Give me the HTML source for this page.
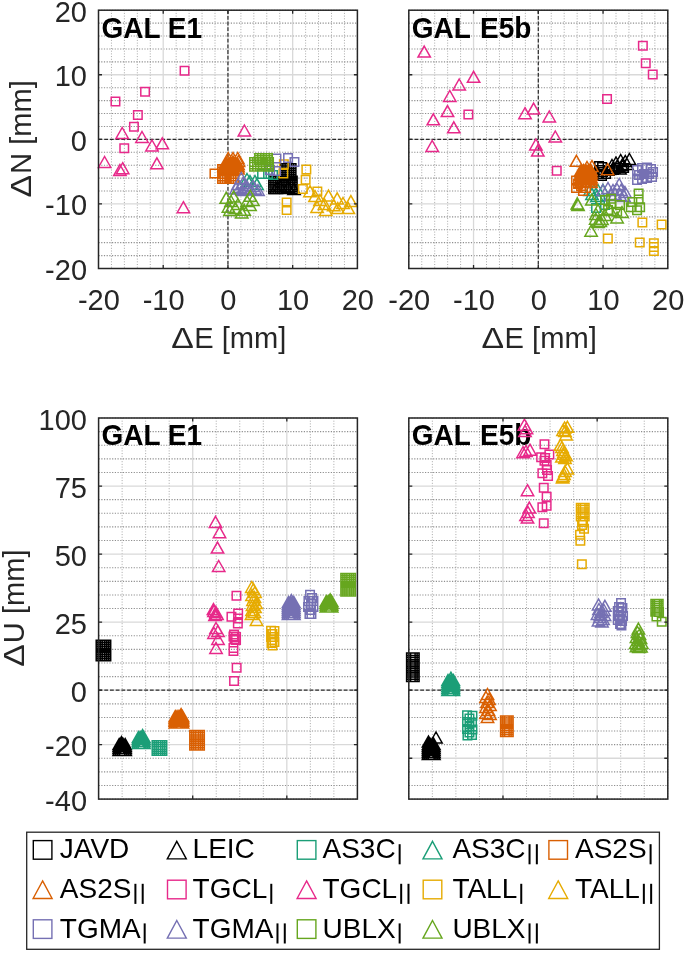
<!DOCTYPE html>
<html><head><meta charset="utf-8"><style>
html,body{margin:0;padding:0;background:#fff;}
svg{display:block;font-family:"Liberation Sans", sans-serif;filter:blur(0.3px);}
</style></head><body>
<svg width="685" height="953" viewBox="0 0 685 953">
<rect width="685" height="953" fill="#fff"/>
<line x1="98.50" y1="10.2" x2="98.50" y2="268.5" stroke="#a8a8a8" stroke-width="1.0" stroke-dasharray="1.0 1.7"/>
<line x1="111.44" y1="10.2" x2="111.44" y2="268.5" stroke="#a8a8a8" stroke-width="1.0" stroke-dasharray="1.0 1.7"/>
<line x1="124.39" y1="10.2" x2="124.39" y2="268.5" stroke="#a8a8a8" stroke-width="1.0" stroke-dasharray="1.0 1.7"/>
<line x1="137.33" y1="10.2" x2="137.33" y2="268.5" stroke="#a8a8a8" stroke-width="1.0" stroke-dasharray="1.0 1.7"/>
<line x1="150.28" y1="10.2" x2="150.28" y2="268.5" stroke="#a8a8a8" stroke-width="1.0" stroke-dasharray="1.0 1.7"/>
<line x1="176.17" y1="10.2" x2="176.17" y2="268.5" stroke="#a8a8a8" stroke-width="1.0" stroke-dasharray="1.0 1.7"/>
<line x1="189.11" y1="10.2" x2="189.11" y2="268.5" stroke="#a8a8a8" stroke-width="1.0" stroke-dasharray="1.0 1.7"/>
<line x1="202.06" y1="10.2" x2="202.06" y2="268.5" stroke="#a8a8a8" stroke-width="1.0" stroke-dasharray="1.0 1.7"/>
<line x1="215.00" y1="10.2" x2="215.00" y2="268.5" stroke="#a8a8a8" stroke-width="1.0" stroke-dasharray="1.0 1.7"/>
<line x1="240.90" y1="10.2" x2="240.90" y2="268.5" stroke="#a8a8a8" stroke-width="1.0" stroke-dasharray="1.0 1.7"/>
<line x1="253.84" y1="10.2" x2="253.84" y2="268.5" stroke="#a8a8a8" stroke-width="1.0" stroke-dasharray="1.0 1.7"/>
<line x1="266.78" y1="10.2" x2="266.78" y2="268.5" stroke="#a8a8a8" stroke-width="1.0" stroke-dasharray="1.0 1.7"/>
<line x1="279.73" y1="10.2" x2="279.73" y2="268.5" stroke="#a8a8a8" stroke-width="1.0" stroke-dasharray="1.0 1.7"/>
<line x1="305.62" y1="10.2" x2="305.62" y2="268.5" stroke="#a8a8a8" stroke-width="1.0" stroke-dasharray="1.0 1.7"/>
<line x1="318.56" y1="10.2" x2="318.56" y2="268.5" stroke="#a8a8a8" stroke-width="1.0" stroke-dasharray="1.0 1.7"/>
<line x1="331.51" y1="10.2" x2="331.51" y2="268.5" stroke="#a8a8a8" stroke-width="1.0" stroke-dasharray="1.0 1.7"/>
<line x1="344.45" y1="10.2" x2="344.45" y2="268.5" stroke="#a8a8a8" stroke-width="1.0" stroke-dasharray="1.0 1.7"/>
<line x1="357.40" y1="10.2" x2="357.40" y2="268.5" stroke="#a8a8a8" stroke-width="1.0" stroke-dasharray="1.0 1.7"/>
<line x1="98.5" y1="268.50" x2="357.4" y2="268.50" stroke="#8e8e8e" stroke-width="1.1" stroke-dasharray="1.2 1.5"/>
<line x1="98.5" y1="255.59" x2="357.4" y2="255.59" stroke="#8e8e8e" stroke-width="1.1" stroke-dasharray="1.2 1.5"/>
<line x1="98.5" y1="242.67" x2="357.4" y2="242.67" stroke="#8e8e8e" stroke-width="1.1" stroke-dasharray="1.2 1.5"/>
<line x1="98.5" y1="229.75" x2="357.4" y2="229.75" stroke="#8e8e8e" stroke-width="1.1" stroke-dasharray="1.2 1.5"/>
<line x1="98.5" y1="216.84" x2="357.4" y2="216.84" stroke="#8e8e8e" stroke-width="1.1" stroke-dasharray="1.2 1.5"/>
<line x1="98.5" y1="191.01" x2="357.4" y2="191.01" stroke="#8e8e8e" stroke-width="1.1" stroke-dasharray="1.2 1.5"/>
<line x1="98.5" y1="178.09" x2="357.4" y2="178.09" stroke="#8e8e8e" stroke-width="1.1" stroke-dasharray="1.2 1.5"/>
<line x1="98.5" y1="165.18" x2="357.4" y2="165.18" stroke="#8e8e8e" stroke-width="1.1" stroke-dasharray="1.2 1.5"/>
<line x1="98.5" y1="152.26" x2="357.4" y2="152.26" stroke="#8e8e8e" stroke-width="1.1" stroke-dasharray="1.2 1.5"/>
<line x1="98.5" y1="126.43" x2="357.4" y2="126.43" stroke="#8e8e8e" stroke-width="1.1" stroke-dasharray="1.2 1.5"/>
<line x1="98.5" y1="113.52" x2="357.4" y2="113.52" stroke="#8e8e8e" stroke-width="1.1" stroke-dasharray="1.2 1.5"/>
<line x1="98.5" y1="100.60" x2="357.4" y2="100.60" stroke="#8e8e8e" stroke-width="1.1" stroke-dasharray="1.2 1.5"/>
<line x1="98.5" y1="87.69" x2="357.4" y2="87.69" stroke="#8e8e8e" stroke-width="1.1" stroke-dasharray="1.2 1.5"/>
<line x1="98.5" y1="61.86" x2="357.4" y2="61.86" stroke="#8e8e8e" stroke-width="1.1" stroke-dasharray="1.2 1.5"/>
<line x1="98.5" y1="48.94" x2="357.4" y2="48.94" stroke="#8e8e8e" stroke-width="1.1" stroke-dasharray="1.2 1.5"/>
<line x1="98.5" y1="36.03" x2="357.4" y2="36.03" stroke="#8e8e8e" stroke-width="1.1" stroke-dasharray="1.2 1.5"/>
<line x1="98.5" y1="23.12" x2="357.4" y2="23.12" stroke="#8e8e8e" stroke-width="1.1" stroke-dasharray="1.2 1.5"/>
<line x1="98.5" y1="10.20" x2="357.4" y2="10.20" stroke="#8e8e8e" stroke-width="1.1" stroke-dasharray="1.2 1.5"/>
<line x1="163.22" y1="10.2" x2="163.22" y2="268.5" stroke="#d9d9d9" stroke-width="1.3"/>
<line x1="227.95" y1="10.2" x2="227.95" y2="268.5" stroke="#d9d9d9" stroke-width="1.3"/>
<line x1="292.67" y1="10.2" x2="292.67" y2="268.5" stroke="#d9d9d9" stroke-width="1.3"/>
<line x1="98.5" y1="203.93" x2="357.4" y2="203.93" stroke="#d9d9d9" stroke-width="1.3"/>
<line x1="98.5" y1="139.35" x2="357.4" y2="139.35" stroke="#d9d9d9" stroke-width="1.3"/>
<line x1="98.5" y1="74.77" x2="357.4" y2="74.77" stroke="#d9d9d9" stroke-width="1.3"/>
<line x1="98.5" y1="139.35" x2="357.4" y2="139.35" stroke="#2a2a2a" stroke-width="1.2" stroke-dasharray="3.8 1.9"/>
<line x1="227.95" y1="10.2" x2="227.95" y2="268.5" stroke="#2a2a2a" stroke-width="1.2" stroke-dasharray="3.8 1.9"/>
<line x1="408.80" y1="10.2" x2="408.80" y2="268.5" stroke="#a8a8a8" stroke-width="1.0" stroke-dasharray="1.0 1.7"/>
<line x1="421.75" y1="10.2" x2="421.75" y2="268.5" stroke="#a8a8a8" stroke-width="1.0" stroke-dasharray="1.0 1.7"/>
<line x1="434.70" y1="10.2" x2="434.70" y2="268.5" stroke="#a8a8a8" stroke-width="1.0" stroke-dasharray="1.0 1.7"/>
<line x1="447.65" y1="10.2" x2="447.65" y2="268.5" stroke="#a8a8a8" stroke-width="1.0" stroke-dasharray="1.0 1.7"/>
<line x1="460.60" y1="10.2" x2="460.60" y2="268.5" stroke="#a8a8a8" stroke-width="1.0" stroke-dasharray="1.0 1.7"/>
<line x1="486.50" y1="10.2" x2="486.50" y2="268.5" stroke="#a8a8a8" stroke-width="1.0" stroke-dasharray="1.0 1.7"/>
<line x1="499.45" y1="10.2" x2="499.45" y2="268.5" stroke="#a8a8a8" stroke-width="1.0" stroke-dasharray="1.0 1.7"/>
<line x1="512.40" y1="10.2" x2="512.40" y2="268.5" stroke="#a8a8a8" stroke-width="1.0" stroke-dasharray="1.0 1.7"/>
<line x1="525.35" y1="10.2" x2="525.35" y2="268.5" stroke="#a8a8a8" stroke-width="1.0" stroke-dasharray="1.0 1.7"/>
<line x1="551.25" y1="10.2" x2="551.25" y2="268.5" stroke="#a8a8a8" stroke-width="1.0" stroke-dasharray="1.0 1.7"/>
<line x1="564.20" y1="10.2" x2="564.20" y2="268.5" stroke="#a8a8a8" stroke-width="1.0" stroke-dasharray="1.0 1.7"/>
<line x1="577.15" y1="10.2" x2="577.15" y2="268.5" stroke="#a8a8a8" stroke-width="1.0" stroke-dasharray="1.0 1.7"/>
<line x1="590.10" y1="10.2" x2="590.10" y2="268.5" stroke="#a8a8a8" stroke-width="1.0" stroke-dasharray="1.0 1.7"/>
<line x1="616.00" y1="10.2" x2="616.00" y2="268.5" stroke="#a8a8a8" stroke-width="1.0" stroke-dasharray="1.0 1.7"/>
<line x1="628.95" y1="10.2" x2="628.95" y2="268.5" stroke="#a8a8a8" stroke-width="1.0" stroke-dasharray="1.0 1.7"/>
<line x1="641.90" y1="10.2" x2="641.90" y2="268.5" stroke="#a8a8a8" stroke-width="1.0" stroke-dasharray="1.0 1.7"/>
<line x1="654.85" y1="10.2" x2="654.85" y2="268.5" stroke="#a8a8a8" stroke-width="1.0" stroke-dasharray="1.0 1.7"/>
<line x1="667.80" y1="10.2" x2="667.80" y2="268.5" stroke="#a8a8a8" stroke-width="1.0" stroke-dasharray="1.0 1.7"/>
<line x1="408.8" y1="268.50" x2="667.8" y2="268.50" stroke="#8e8e8e" stroke-width="1.1" stroke-dasharray="1.2 1.5"/>
<line x1="408.8" y1="255.59" x2="667.8" y2="255.59" stroke="#8e8e8e" stroke-width="1.1" stroke-dasharray="1.2 1.5"/>
<line x1="408.8" y1="242.67" x2="667.8" y2="242.67" stroke="#8e8e8e" stroke-width="1.1" stroke-dasharray="1.2 1.5"/>
<line x1="408.8" y1="229.75" x2="667.8" y2="229.75" stroke="#8e8e8e" stroke-width="1.1" stroke-dasharray="1.2 1.5"/>
<line x1="408.8" y1="216.84" x2="667.8" y2="216.84" stroke="#8e8e8e" stroke-width="1.1" stroke-dasharray="1.2 1.5"/>
<line x1="408.8" y1="191.01" x2="667.8" y2="191.01" stroke="#8e8e8e" stroke-width="1.1" stroke-dasharray="1.2 1.5"/>
<line x1="408.8" y1="178.09" x2="667.8" y2="178.09" stroke="#8e8e8e" stroke-width="1.1" stroke-dasharray="1.2 1.5"/>
<line x1="408.8" y1="165.18" x2="667.8" y2="165.18" stroke="#8e8e8e" stroke-width="1.1" stroke-dasharray="1.2 1.5"/>
<line x1="408.8" y1="152.26" x2="667.8" y2="152.26" stroke="#8e8e8e" stroke-width="1.1" stroke-dasharray="1.2 1.5"/>
<line x1="408.8" y1="126.43" x2="667.8" y2="126.43" stroke="#8e8e8e" stroke-width="1.1" stroke-dasharray="1.2 1.5"/>
<line x1="408.8" y1="113.52" x2="667.8" y2="113.52" stroke="#8e8e8e" stroke-width="1.1" stroke-dasharray="1.2 1.5"/>
<line x1="408.8" y1="100.60" x2="667.8" y2="100.60" stroke="#8e8e8e" stroke-width="1.1" stroke-dasharray="1.2 1.5"/>
<line x1="408.8" y1="87.69" x2="667.8" y2="87.69" stroke="#8e8e8e" stroke-width="1.1" stroke-dasharray="1.2 1.5"/>
<line x1="408.8" y1="61.86" x2="667.8" y2="61.86" stroke="#8e8e8e" stroke-width="1.1" stroke-dasharray="1.2 1.5"/>
<line x1="408.8" y1="48.94" x2="667.8" y2="48.94" stroke="#8e8e8e" stroke-width="1.1" stroke-dasharray="1.2 1.5"/>
<line x1="408.8" y1="36.03" x2="667.8" y2="36.03" stroke="#8e8e8e" stroke-width="1.1" stroke-dasharray="1.2 1.5"/>
<line x1="408.8" y1="23.12" x2="667.8" y2="23.12" stroke="#8e8e8e" stroke-width="1.1" stroke-dasharray="1.2 1.5"/>
<line x1="408.8" y1="10.20" x2="667.8" y2="10.20" stroke="#8e8e8e" stroke-width="1.1" stroke-dasharray="1.2 1.5"/>
<line x1="473.55" y1="10.2" x2="473.55" y2="268.5" stroke="#d9d9d9" stroke-width="1.3"/>
<line x1="538.30" y1="10.2" x2="538.30" y2="268.5" stroke="#d9d9d9" stroke-width="1.3"/>
<line x1="603.05" y1="10.2" x2="603.05" y2="268.5" stroke="#d9d9d9" stroke-width="1.3"/>
<line x1="408.8" y1="203.93" x2="667.8" y2="203.93" stroke="#d9d9d9" stroke-width="1.3"/>
<line x1="408.8" y1="139.35" x2="667.8" y2="139.35" stroke="#d9d9d9" stroke-width="1.3"/>
<line x1="408.8" y1="74.77" x2="667.8" y2="74.77" stroke="#d9d9d9" stroke-width="1.3"/>
<line x1="408.8" y1="139.35" x2="667.8" y2="139.35" stroke="#2a2a2a" stroke-width="1.2" stroke-dasharray="3.8 1.9"/>
<line x1="538.30" y1="10.2" x2="538.30" y2="268.5" stroke="#2a2a2a" stroke-width="1.2" stroke-dasharray="3.8 1.9"/>
<line x1="98.60" y1="418.0" x2="98.60" y2="799.1" stroke="#a8a8a8" stroke-width="1.0" stroke-dasharray="1.0 1.7"/>
<line x1="122.13" y1="418.0" x2="122.13" y2="799.1" stroke="#a8a8a8" stroke-width="1.0" stroke-dasharray="1.0 1.7"/>
<line x1="145.65" y1="418.0" x2="145.65" y2="799.1" stroke="#a8a8a8" stroke-width="1.0" stroke-dasharray="1.0 1.7"/>
<line x1="169.18" y1="418.0" x2="169.18" y2="799.1" stroke="#a8a8a8" stroke-width="1.0" stroke-dasharray="1.0 1.7"/>
<line x1="216.24" y1="418.0" x2="216.24" y2="799.1" stroke="#a8a8a8" stroke-width="1.0" stroke-dasharray="1.0 1.7"/>
<line x1="239.76" y1="418.0" x2="239.76" y2="799.1" stroke="#a8a8a8" stroke-width="1.0" stroke-dasharray="1.0 1.7"/>
<line x1="263.29" y1="418.0" x2="263.29" y2="799.1" stroke="#a8a8a8" stroke-width="1.0" stroke-dasharray="1.0 1.7"/>
<line x1="310.35" y1="418.0" x2="310.35" y2="799.1" stroke="#a8a8a8" stroke-width="1.0" stroke-dasharray="1.0 1.7"/>
<line x1="333.87" y1="418.0" x2="333.87" y2="799.1" stroke="#a8a8a8" stroke-width="1.0" stroke-dasharray="1.0 1.7"/>
<line x1="357.40" y1="418.0" x2="357.40" y2="799.1" stroke="#a8a8a8" stroke-width="1.0" stroke-dasharray="1.0 1.7"/>
<line x1="98.6" y1="799.10" x2="357.4" y2="799.10" stroke="#8e8e8e" stroke-width="1.1" stroke-dasharray="1.2 1.5"/>
<line x1="98.6" y1="785.49" x2="357.4" y2="785.49" stroke="#8e8e8e" stroke-width="1.1" stroke-dasharray="1.2 1.5"/>
<line x1="98.6" y1="771.88" x2="357.4" y2="771.88" stroke="#8e8e8e" stroke-width="1.1" stroke-dasharray="1.2 1.5"/>
<line x1="98.6" y1="758.27" x2="357.4" y2="758.27" stroke="#8e8e8e" stroke-width="1.1" stroke-dasharray="1.2 1.5"/>
<line x1="98.6" y1="731.05" x2="357.4" y2="731.05" stroke="#8e8e8e" stroke-width="1.1" stroke-dasharray="1.2 1.5"/>
<line x1="98.6" y1="717.44" x2="357.4" y2="717.44" stroke="#8e8e8e" stroke-width="1.1" stroke-dasharray="1.2 1.5"/>
<line x1="98.6" y1="703.83" x2="357.4" y2="703.83" stroke="#8e8e8e" stroke-width="1.1" stroke-dasharray="1.2 1.5"/>
<line x1="98.6" y1="676.60" x2="357.4" y2="676.60" stroke="#8e8e8e" stroke-width="1.1" stroke-dasharray="1.2 1.5"/>
<line x1="98.6" y1="662.99" x2="357.4" y2="662.99" stroke="#8e8e8e" stroke-width="1.1" stroke-dasharray="1.2 1.5"/>
<line x1="98.6" y1="649.38" x2="357.4" y2="649.38" stroke="#8e8e8e" stroke-width="1.1" stroke-dasharray="1.2 1.5"/>
<line x1="98.6" y1="635.77" x2="357.4" y2="635.77" stroke="#8e8e8e" stroke-width="1.1" stroke-dasharray="1.2 1.5"/>
<line x1="98.6" y1="608.55" x2="357.4" y2="608.55" stroke="#8e8e8e" stroke-width="1.1" stroke-dasharray="1.2 1.5"/>
<line x1="98.6" y1="594.94" x2="357.4" y2="594.94" stroke="#8e8e8e" stroke-width="1.1" stroke-dasharray="1.2 1.5"/>
<line x1="98.6" y1="581.33" x2="357.4" y2="581.33" stroke="#8e8e8e" stroke-width="1.1" stroke-dasharray="1.2 1.5"/>
<line x1="98.6" y1="567.72" x2="357.4" y2="567.72" stroke="#8e8e8e" stroke-width="1.1" stroke-dasharray="1.2 1.5"/>
<line x1="98.6" y1="540.50" x2="357.4" y2="540.50" stroke="#8e8e8e" stroke-width="1.1" stroke-dasharray="1.2 1.5"/>
<line x1="98.6" y1="526.89" x2="357.4" y2="526.89" stroke="#8e8e8e" stroke-width="1.1" stroke-dasharray="1.2 1.5"/>
<line x1="98.6" y1="513.27" x2="357.4" y2="513.27" stroke="#8e8e8e" stroke-width="1.1" stroke-dasharray="1.2 1.5"/>
<line x1="98.6" y1="499.66" x2="357.4" y2="499.66" stroke="#8e8e8e" stroke-width="1.1" stroke-dasharray="1.2 1.5"/>
<line x1="98.6" y1="472.44" x2="357.4" y2="472.44" stroke="#8e8e8e" stroke-width="1.1" stroke-dasharray="1.2 1.5"/>
<line x1="98.6" y1="458.83" x2="357.4" y2="458.83" stroke="#8e8e8e" stroke-width="1.1" stroke-dasharray="1.2 1.5"/>
<line x1="98.6" y1="445.22" x2="357.4" y2="445.22" stroke="#8e8e8e" stroke-width="1.1" stroke-dasharray="1.2 1.5"/>
<line x1="98.6" y1="431.61" x2="357.4" y2="431.61" stroke="#8e8e8e" stroke-width="1.1" stroke-dasharray="1.2 1.5"/>
<line x1="98.6" y1="418.00" x2="357.4" y2="418.00" stroke="#8e8e8e" stroke-width="1.1" stroke-dasharray="1.2 1.5"/>
<line x1="192.71" y1="418.0" x2="192.71" y2="799.1" stroke="#d9d9d9" stroke-width="1.3"/>
<line x1="286.82" y1="418.0" x2="286.82" y2="799.1" stroke="#d9d9d9" stroke-width="1.3"/>
<line x1="98.6" y1="744.66" x2="357.4" y2="744.66" stroke="#d9d9d9" stroke-width="1.3"/>
<line x1="98.6" y1="690.21" x2="357.4" y2="690.21" stroke="#d9d9d9" stroke-width="1.3"/>
<line x1="98.6" y1="622.16" x2="357.4" y2="622.16" stroke="#d9d9d9" stroke-width="1.3"/>
<line x1="98.6" y1="554.11" x2="357.4" y2="554.11" stroke="#d9d9d9" stroke-width="1.3"/>
<line x1="98.6" y1="486.05" x2="357.4" y2="486.05" stroke="#d9d9d9" stroke-width="1.3"/>
<line x1="98.6" y1="690.21" x2="357.4" y2="690.21" stroke="#2a2a2a" stroke-width="1.2" stroke-dasharray="3.8 1.9"/>
<line x1="408.80" y1="418.0" x2="408.80" y2="799.1" stroke="#a8a8a8" stroke-width="1.0" stroke-dasharray="1.0 1.7"/>
<line x1="432.35" y1="418.0" x2="432.35" y2="799.1" stroke="#a8a8a8" stroke-width="1.0" stroke-dasharray="1.0 1.7"/>
<line x1="455.89" y1="418.0" x2="455.89" y2="799.1" stroke="#a8a8a8" stroke-width="1.0" stroke-dasharray="1.0 1.7"/>
<line x1="479.44" y1="418.0" x2="479.44" y2="799.1" stroke="#a8a8a8" stroke-width="1.0" stroke-dasharray="1.0 1.7"/>
<line x1="526.53" y1="418.0" x2="526.53" y2="799.1" stroke="#a8a8a8" stroke-width="1.0" stroke-dasharray="1.0 1.7"/>
<line x1="550.07" y1="418.0" x2="550.07" y2="799.1" stroke="#a8a8a8" stroke-width="1.0" stroke-dasharray="1.0 1.7"/>
<line x1="573.62" y1="418.0" x2="573.62" y2="799.1" stroke="#a8a8a8" stroke-width="1.0" stroke-dasharray="1.0 1.7"/>
<line x1="620.71" y1="418.0" x2="620.71" y2="799.1" stroke="#a8a8a8" stroke-width="1.0" stroke-dasharray="1.0 1.7"/>
<line x1="644.25" y1="418.0" x2="644.25" y2="799.1" stroke="#a8a8a8" stroke-width="1.0" stroke-dasharray="1.0 1.7"/>
<line x1="667.80" y1="418.0" x2="667.80" y2="799.1" stroke="#a8a8a8" stroke-width="1.0" stroke-dasharray="1.0 1.7"/>
<line x1="408.8" y1="799.10" x2="667.8" y2="799.10" stroke="#8e8e8e" stroke-width="1.1" stroke-dasharray="1.2 1.5"/>
<line x1="408.8" y1="785.49" x2="667.8" y2="785.49" stroke="#8e8e8e" stroke-width="1.1" stroke-dasharray="1.2 1.5"/>
<line x1="408.8" y1="771.88" x2="667.8" y2="771.88" stroke="#8e8e8e" stroke-width="1.1" stroke-dasharray="1.2 1.5"/>
<line x1="408.8" y1="744.66" x2="667.8" y2="744.66" stroke="#8e8e8e" stroke-width="1.1" stroke-dasharray="1.2 1.5"/>
<line x1="408.8" y1="731.05" x2="667.8" y2="731.05" stroke="#8e8e8e" stroke-width="1.1" stroke-dasharray="1.2 1.5"/>
<line x1="408.8" y1="717.44" x2="667.8" y2="717.44" stroke="#8e8e8e" stroke-width="1.1" stroke-dasharray="1.2 1.5"/>
<line x1="408.8" y1="703.83" x2="667.8" y2="703.83" stroke="#8e8e8e" stroke-width="1.1" stroke-dasharray="1.2 1.5"/>
<line x1="408.8" y1="676.60" x2="667.8" y2="676.60" stroke="#8e8e8e" stroke-width="1.1" stroke-dasharray="1.2 1.5"/>
<line x1="408.8" y1="662.99" x2="667.8" y2="662.99" stroke="#8e8e8e" stroke-width="1.1" stroke-dasharray="1.2 1.5"/>
<line x1="408.8" y1="649.38" x2="667.8" y2="649.38" stroke="#8e8e8e" stroke-width="1.1" stroke-dasharray="1.2 1.5"/>
<line x1="408.8" y1="635.77" x2="667.8" y2="635.77" stroke="#8e8e8e" stroke-width="1.1" stroke-dasharray="1.2 1.5"/>
<line x1="408.8" y1="608.55" x2="667.8" y2="608.55" stroke="#8e8e8e" stroke-width="1.1" stroke-dasharray="1.2 1.5"/>
<line x1="408.8" y1="594.94" x2="667.8" y2="594.94" stroke="#8e8e8e" stroke-width="1.1" stroke-dasharray="1.2 1.5"/>
<line x1="408.8" y1="581.33" x2="667.8" y2="581.33" stroke="#8e8e8e" stroke-width="1.1" stroke-dasharray="1.2 1.5"/>
<line x1="408.8" y1="567.72" x2="667.8" y2="567.72" stroke="#8e8e8e" stroke-width="1.1" stroke-dasharray="1.2 1.5"/>
<line x1="408.8" y1="540.50" x2="667.8" y2="540.50" stroke="#8e8e8e" stroke-width="1.1" stroke-dasharray="1.2 1.5"/>
<line x1="408.8" y1="526.89" x2="667.8" y2="526.89" stroke="#8e8e8e" stroke-width="1.1" stroke-dasharray="1.2 1.5"/>
<line x1="408.8" y1="513.27" x2="667.8" y2="513.27" stroke="#8e8e8e" stroke-width="1.1" stroke-dasharray="1.2 1.5"/>
<line x1="408.8" y1="499.66" x2="667.8" y2="499.66" stroke="#8e8e8e" stroke-width="1.1" stroke-dasharray="1.2 1.5"/>
<line x1="408.8" y1="472.44" x2="667.8" y2="472.44" stroke="#8e8e8e" stroke-width="1.1" stroke-dasharray="1.2 1.5"/>
<line x1="408.8" y1="458.83" x2="667.8" y2="458.83" stroke="#8e8e8e" stroke-width="1.1" stroke-dasharray="1.2 1.5"/>
<line x1="408.8" y1="445.22" x2="667.8" y2="445.22" stroke="#8e8e8e" stroke-width="1.1" stroke-dasharray="1.2 1.5"/>
<line x1="408.8" y1="431.61" x2="667.8" y2="431.61" stroke="#8e8e8e" stroke-width="1.1" stroke-dasharray="1.2 1.5"/>
<line x1="408.8" y1="418.00" x2="667.8" y2="418.00" stroke="#8e8e8e" stroke-width="1.1" stroke-dasharray="1.2 1.5"/>
<line x1="502.98" y1="418.0" x2="502.98" y2="799.1" stroke="#d9d9d9" stroke-width="1.3"/>
<line x1="597.16" y1="418.0" x2="597.16" y2="799.1" stroke="#d9d9d9" stroke-width="1.3"/>
<line x1="408.8" y1="758.27" x2="667.8" y2="758.27" stroke="#d9d9d9" stroke-width="1.3"/>
<line x1="408.8" y1="690.21" x2="667.8" y2="690.21" stroke="#d9d9d9" stroke-width="1.3"/>
<line x1="408.8" y1="622.16" x2="667.8" y2="622.16" stroke="#d9d9d9" stroke-width="1.3"/>
<line x1="408.8" y1="554.11" x2="667.8" y2="554.11" stroke="#d9d9d9" stroke-width="1.3"/>
<line x1="408.8" y1="486.05" x2="667.8" y2="486.05" stroke="#d9d9d9" stroke-width="1.3"/>
<line x1="408.8" y1="690.21" x2="667.8" y2="690.21" stroke="#2a2a2a" stroke-width="1.2" stroke-dasharray="3.8 1.9"/>
<text transform="translate(101.50,37.60) scale(1,1.07)" font-size="28" text-anchor="start" font-weight="bold" fill="#000">GAL E1</text>
<text transform="translate(411.80,37.60) scale(1,1.07)" font-size="28" text-anchor="start" font-weight="bold" fill="#000">GAL<tspan dx="1.4"> </tspan>E5b</text>
<text transform="translate(101.50,445.40) scale(1,1.07)" font-size="28" text-anchor="start" font-weight="bold" fill="#000">GAL E1</text>
<text transform="translate(411.80,445.40) scale(1,1.07)" font-size="28" text-anchor="start" font-weight="bold" fill="#000">GAL<tspan dx="1.4"> </tspan>E5b</text>
<path d="M268.8 176.2h8.5v8.5h-8.5zM270.9 176.2h8.5v8.5h-8.5zM273.1 176.2h8.5v8.5h-8.5zM275.4 176.2h8.5v8.5h-8.5zM277.6 176.2h8.5v8.5h-8.5zM279.8 176.2h8.5v8.5h-8.5zM281.9 176.2h8.5v8.5h-8.5zM284.1 176.2h8.5v8.5h-8.5zM286.4 176.2h8.5v8.5h-8.5zM288.6 176.2h8.5v8.5h-8.5zM268.8 178.4h8.5v8.5h-8.5zM270.9 178.4h8.5v8.5h-8.5zM273.1 178.4h8.5v8.5h-8.5zM275.4 178.4h8.5v8.5h-8.5zM277.6 178.4h8.5v8.5h-8.5zM279.8 178.4h8.5v8.5h-8.5zM281.9 178.4h8.5v8.5h-8.5zM284.1 178.4h8.5v8.5h-8.5zM286.4 178.4h8.5v8.5h-8.5zM288.6 178.4h8.5v8.5h-8.5zM268.8 180.7h8.5v8.5h-8.5zM270.9 180.7h8.5v8.5h-8.5zM273.1 180.7h8.5v8.5h-8.5zM275.4 180.7h8.5v8.5h-8.5zM277.6 180.7h8.5v8.5h-8.5zM279.8 180.7h8.5v8.5h-8.5zM281.9 180.7h8.5v8.5h-8.5zM284.1 180.7h8.5v8.5h-8.5zM286.4 180.7h8.5v8.5h-8.5zM288.6 180.7h8.5v8.5h-8.5zM268.8 182.8h8.5v8.5h-8.5zM270.9 182.8h8.5v8.5h-8.5zM273.1 182.8h8.5v8.5h-8.5zM275.4 182.8h8.5v8.5h-8.5zM277.6 182.8h8.5v8.5h-8.5zM279.8 182.8h8.5v8.5h-8.5zM281.9 182.8h8.5v8.5h-8.5zM284.1 182.8h8.5v8.5h-8.5zM286.4 182.8h8.5v8.5h-8.5zM288.6 182.8h8.5v8.5h-8.5zM268.8 185.1h8.5v8.5h-8.5zM270.9 185.1h8.5v8.5h-8.5zM273.1 185.1h8.5v8.5h-8.5zM275.4 185.1h8.5v8.5h-8.5zM277.6 185.1h8.5v8.5h-8.5zM279.8 185.1h8.5v8.5h-8.5zM281.9 185.1h8.5v8.5h-8.5zM284.1 185.1h8.5v8.5h-8.5zM286.4 185.1h8.5v8.5h-8.5zM288.6 185.1h8.5v8.5h-8.5zM280.8 163.8h8.5v8.5h-8.5zM282.9 163.8h8.5v8.5h-8.5zM285.1 163.8h8.5v8.5h-8.5zM287.4 163.8h8.5v8.5h-8.5zM280.8 165.9h8.5v8.5h-8.5zM282.9 165.9h8.5v8.5h-8.5zM285.1 165.9h8.5v8.5h-8.5zM287.4 165.9h8.5v8.5h-8.5zM280.8 168.2h8.5v8.5h-8.5zM282.9 168.2h8.5v8.5h-8.5zM285.1 168.2h8.5v8.5h-8.5zM287.4 168.2h8.5v8.5h-8.5zM280.8 170.3h8.5v8.5h-8.5zM282.9 170.3h8.5v8.5h-8.5zM285.1 170.3h8.5v8.5h-8.5zM287.4 170.3h8.5v8.5h-8.5zM280.8 172.6h8.5v8.5h-8.5zM282.9 172.6h8.5v8.5h-8.5zM285.1 172.6h8.5v8.5h-8.5zM287.4 172.6h8.5v8.5h-8.5z" fill="none" stroke="#000000" stroke-width="1.5" stroke-linejoin="miter"/>
<path d="M280.0 180.5L286.2 191.5L273.8 191.5zM288.0 181.5L294.2 192.5L281.8 192.5zM294.0 183.5L300.2 194.5L287.8 194.5zM276.0 182.5L282.2 193.5L269.8 193.5z" fill="none" stroke="#000000" stroke-width="1.5" stroke-linejoin="miter"/>
<path d="M257.8 169.8h8.5v8.5h-8.5zM263.8 169.8h8.5v8.5h-8.5zM268.8 170.8h8.5v8.5h-8.5z" fill="none" stroke="#1b9e77" stroke-width="1.5" stroke-linejoin="miter"/>
<path d="M250.0 175.5L256.2 186.5L243.8 186.5zM255.0 175.5L261.2 186.5L248.8 186.5zM247.0 173.5L253.2 184.5L240.8 184.5zM257.0 178.5L263.2 189.5L250.8 189.5z" fill="none" stroke="#1b9e77" stroke-width="1.5" stroke-linejoin="miter"/>
<path d="M210.2 169.2h8.5v8.5h-8.5zM217.8 164.8h8.5v8.5h-8.5zM220.2 164.8h8.5v8.5h-8.5zM222.6 164.8h8.5v8.5h-8.5zM224.9 164.8h8.5v8.5h-8.5zM227.3 164.8h8.5v8.5h-8.5zM229.8 164.8h8.5v8.5h-8.5zM217.8 167.2h8.5v8.5h-8.5zM220.2 167.2h8.5v8.5h-8.5zM222.6 167.2h8.5v8.5h-8.5zM224.9 167.2h8.5v8.5h-8.5zM227.3 167.2h8.5v8.5h-8.5zM229.8 167.2h8.5v8.5h-8.5zM217.8 169.8h8.5v8.5h-8.5zM220.2 169.8h8.5v8.5h-8.5zM222.6 169.8h8.5v8.5h-8.5zM224.9 169.8h8.5v8.5h-8.5zM227.3 169.8h8.5v8.5h-8.5zM229.8 169.8h8.5v8.5h-8.5zM217.8 172.2h8.5v8.5h-8.5zM220.2 172.2h8.5v8.5h-8.5zM222.6 172.2h8.5v8.5h-8.5zM224.9 172.2h8.5v8.5h-8.5zM227.3 172.2h8.5v8.5h-8.5zM229.8 172.2h8.5v8.5h-8.5zM217.8 174.8h8.5v8.5h-8.5zM220.2 174.8h8.5v8.5h-8.5zM222.6 174.8h8.5v8.5h-8.5zM224.9 174.8h8.5v8.5h-8.5zM227.3 174.8h8.5v8.5h-8.5zM229.8 174.8h8.5v8.5h-8.5zM232.8 165.8h8.5v8.5h-8.5z" fill="none" stroke="#d95f02" stroke-width="1.5" stroke-linejoin="miter"/>
<path d="M228.2 152.5L234.4 163.5L222.0 163.5zM233.0 152.5L239.2 163.5L226.8 163.5zM237.8 152.5L244.0 163.5L231.6 163.5zM238.5 155.5L244.7 166.5L232.3 166.5zM228.0 156.0L234.2 167.0L221.8 167.0zM233.0 156.0L239.2 167.0L226.8 167.0zM226.0 158.5L232.2 169.5L219.8 169.5zM228.4 158.5L234.6 169.5L222.2 169.5zM230.8 158.5L237.0 169.5L224.6 169.5zM233.2 158.5L239.4 169.5L227.0 169.5zM235.6 158.5L241.8 169.5L229.4 169.5zM238.0 158.5L244.2 169.5L231.8 169.5zM226.0 160.7L232.2 171.7L219.8 171.7zM228.4 160.7L234.6 171.7L222.2 171.7zM230.8 160.7L237.0 171.7L224.6 171.7zM233.2 160.7L239.4 171.7L227.0 171.7zM235.6 160.7L241.8 171.7L229.4 171.7zM238.0 160.7L244.2 171.7L231.8 171.7zM226.0 162.9L232.2 173.9L219.8 173.9zM228.4 162.9L234.6 173.9L222.2 173.9zM230.8 162.9L237.0 173.9L224.6 173.9zM233.2 162.9L239.4 173.9L227.0 173.9zM235.6 162.9L241.8 173.9L229.4 173.9zM238.0 162.9L244.2 173.9L231.8 173.9zM224.0 160.5L230.2 171.5L217.8 171.5z" fill="none" stroke="#d95f02" stroke-width="1.5" stroke-linejoin="miter"/>
<path d="M180.3 66.5h8.5v8.5h-8.5zM140.8 87.5h8.5v8.5h-8.5zM111.2 97.2h8.5v8.5h-8.5zM133.6 110.8h8.5v8.5h-8.5zM129.7 122.5h8.5v8.5h-8.5zM120.0 143.9h8.5v8.5h-8.5z" fill="none" stroke="#e7298a" stroke-width="1.5" stroke-linejoin="miter"/>
<path d="M122.2 127.5L128.4 138.5L116.0 138.5zM142.0 131.5L148.2 142.5L135.8 142.5zM152.0 140.0L158.2 151.0L145.8 151.0zM162.3 137.8L168.5 148.8L156.1 148.8zM104.6 156.5L110.8 167.5L98.4 167.5zM119.9 164.5L126.1 175.5L113.7 175.5zM122.7 162.7L128.9 173.7L116.5 173.7zM156.9 157.8L163.1 168.8L150.7 168.8zM183.4 201.7L189.6 212.7L177.2 212.7zM244.4 125.0L250.6 136.0L238.2 136.0z" fill="none" stroke="#e7298a" stroke-width="1.5" stroke-linejoin="miter"/>
<path d="M279.6 160.1h8.5v8.5h-8.5zM279.1 169.2h8.5v8.5h-8.5zM302.1 165.3h8.5v8.5h-8.5zM301.4 175.6h8.5v8.5h-8.5zM298.6 184.8h8.5v8.5h-8.5zM313.1 187.2h8.5v8.5h-8.5zM282.4 198.3h8.5v8.5h-8.5zM282.4 205.8h8.5v8.5h-8.5z" fill="none" stroke="#e6ab02" stroke-width="1.5" stroke-linejoin="miter"/>
<path d="M310.0 185.7L316.2 196.7L303.8 196.7zM315.0 190.6L321.2 201.6L308.8 201.6zM328.5 190.1L334.7 201.1L322.3 201.1zM337.2 192.9L343.4 203.9L331.0 203.9zM350.9 195.6L357.1 206.6L344.7 206.6zM317.1 201.5L323.3 212.5L310.9 212.5zM325.8 204.5L332.0 215.5L319.6 215.5zM337.8 202.6L344.0 213.6L331.6 213.6zM348.3 202.6L354.5 213.6L342.1 213.6zM324.4 198.5L330.6 209.5L318.2 209.5zM333.7 199.7L339.9 210.7L327.5 210.7zM343.0 197.5L349.2 208.5L336.8 208.5zM320.0 194.5L326.2 205.5L313.8 205.5z" fill="none" stroke="#e6ab02" stroke-width="1.5" stroke-linejoin="miter"/>
<path d="M272.2 154.2h8.5v8.5h-8.5zM283.8 153.7h8.5v8.5h-8.5zM290.2 157.8h8.5v8.5h-8.5zM265.8 165.8h8.5v8.5h-8.5zM271.8 166.8h8.5v8.5h-8.5z" fill="none" stroke="#7570b3" stroke-width="1.5" stroke-linejoin="miter"/>
<path d="M241.3 172.5L247.5 183.5L235.1 183.5zM258.0 184.5L264.2 195.5L251.8 195.5zM253.0 180.5L259.2 191.5L246.8 191.5zM238.0 178.5L244.2 189.5L231.8 189.5zM243.0 177.5L249.2 188.5L236.8 188.5zM236.0 183.0L242.2 194.0L229.8 194.0zM240.0 181.5L246.2 192.5L233.8 192.5zM244.0 183.5L250.2 194.5L237.8 194.5zM248.0 182.5L254.2 193.5L241.8 193.5zM251.0 184.0L257.2 195.0L244.8 195.0zM246.0 179.5L252.2 190.5L239.8 190.5zM255.0 183.0L261.2 194.0L248.8 194.0zM242.0 184.5L248.2 195.5L235.8 195.5z" fill="none" stroke="#7570b3" stroke-width="1.5" stroke-linejoin="miter"/>
<path d="M254.8 153.8h8.5v8.5h-8.5zM257.8 153.8h8.5v8.5h-8.5zM260.8 153.8h8.5v8.5h-8.5zM263.8 153.8h8.5v8.5h-8.5zM254.8 155.8h8.5v8.5h-8.5zM257.8 155.8h8.5v8.5h-8.5zM260.8 155.8h8.5v8.5h-8.5zM263.8 155.8h8.5v8.5h-8.5zM249.8 157.8h8.5v8.5h-8.5zM252.8 157.8h8.5v8.5h-8.5zM255.8 157.8h8.5v8.5h-8.5zM258.8 157.8h8.5v8.5h-8.5zM261.8 157.8h8.5v8.5h-8.5zM264.8 157.8h8.5v8.5h-8.5zM249.8 160.2h8.5v8.5h-8.5zM252.8 160.2h8.5v8.5h-8.5zM255.8 160.2h8.5v8.5h-8.5zM258.8 160.2h8.5v8.5h-8.5zM261.8 160.2h8.5v8.5h-8.5zM264.8 160.2h8.5v8.5h-8.5zM249.8 162.6h8.5v8.5h-8.5zM252.8 162.6h8.5v8.5h-8.5zM255.8 162.6h8.5v8.5h-8.5zM258.8 162.6h8.5v8.5h-8.5zM261.8 162.6h8.5v8.5h-8.5zM264.8 162.6h8.5v8.5h-8.5z" fill="none" stroke="#66a61e" stroke-width="1.5" stroke-linejoin="miter"/>
<path d="M226.2 192.3L232.4 203.3L220.0 203.3zM233.6 191.1L239.8 202.1L227.4 202.1zM228.4 201.2L234.6 212.2L222.2 212.2zM235.4 202.4L241.6 213.4L229.2 213.4zM241.7 206.9L247.9 217.9L235.5 217.9zM244.2 204.3L250.4 215.3L238.0 215.3zM250.3 190.3L256.5 201.3L244.1 201.3zM252.9 194.5L259.1 205.5L246.7 205.5zM231.0 195.5L237.2 206.5L224.8 206.5zM238.0 198.5L244.2 209.5L231.8 209.5zM230.0 204.5L236.2 215.5L223.8 215.5zM250.0 199.5L256.2 210.5L243.8 210.5zM247.0 195.5L253.2 206.5L240.8 206.5z" fill="none" stroke="#66a61e" stroke-width="1.5" stroke-linejoin="miter"/>
<path d="M594.8 161.8h8.5v8.5h-8.5zM597.8 162.8h8.5v8.5h-8.5zM595.8 165.8h8.5v8.5h-8.5zM598.8 167.8h8.5v8.5h-8.5zM594.8 169.8h8.5v8.5h-8.5zM597.8 171.8h8.5v8.5h-8.5zM601.8 169.8h8.5v8.5h-8.5zM605.8 166.8h8.5v8.5h-8.5zM609.8 165.8h8.5v8.5h-8.5zM613.8 163.8h8.5v8.5h-8.5zM619.8 163.8h8.5v8.5h-8.5z" fill="none" stroke="#000000" stroke-width="1.5" stroke-linejoin="miter"/>
<path d="M616.0 157.0L622.2 168.0L609.8 168.0zM620.7 154.5L626.9 165.5L614.5 165.5zM625.3 155.5L631.5 166.5L619.1 166.5zM629.4 153.5L635.6 164.5L623.2 164.5zM612.0 159.5L618.2 170.5L605.8 170.5zM617.0 160.5L623.2 171.5L610.8 171.5zM622.0 159.5L628.2 170.5L615.8 170.5zM627.0 158.5L633.2 169.5L620.8 169.5zM614.0 162.5L620.2 173.5L607.8 173.5zM620.0 163.0L626.2 174.0L613.8 174.0z" fill="none" stroke="#000000" stroke-width="1.5" stroke-linejoin="miter"/>
<path d="M595.8 195.8h8.5v8.5h-8.5zM600.8 200.8h8.5v8.5h-8.5zM591.8 203.8h8.5v8.5h-8.5z" fill="none" stroke="#1b9e77" stroke-width="1.5" stroke-linejoin="miter"/>
<path d="M590.0 184.5L596.2 195.5L583.8 195.5zM594.0 184.5L600.2 195.5L587.8 195.5zM598.0 184.5L604.2 195.5L591.8 195.5zM603.0 184.5L609.2 195.5L596.8 195.5zM597.0 190.5L603.2 201.5L590.8 201.5zM592.0 188.5L598.2 199.5L585.8 199.5z" fill="none" stroke="#1b9e77" stroke-width="1.5" stroke-linejoin="miter"/>
<path d="M571.8 183.8h8.5v8.5h-8.5zM571.8 176.2h8.5v8.5h-8.5zM576.8 181.8h8.5v8.5h-8.5zM581.8 183.8h8.5v8.5h-8.5zM578.8 186.8h8.5v8.5h-8.5zM573.8 179.8h8.5v8.5h-8.5z" fill="none" stroke="#d95f02" stroke-width="1.5" stroke-linejoin="miter"/>
<path d="M576.4 155.3L582.6 166.3L570.2 166.3zM607.6 163.7L613.8 174.7L601.4 174.7zM587.0 161.5L593.2 172.5L580.8 172.5zM592.0 160.5L598.2 171.5L585.8 171.5zM581.0 164.5L587.2 175.5L574.8 175.5zM583.5 164.5L589.7 175.5L577.3 175.5zM586.0 164.5L592.2 175.5L579.8 175.5zM588.5 164.5L594.7 175.5L582.3 175.5zM591.0 164.5L597.2 175.5L584.8 175.5zM581.0 166.9L587.2 177.9L574.8 177.9zM583.5 166.9L589.7 177.9L577.3 177.9zM586.0 166.9L592.2 177.9L579.8 177.9zM588.5 166.9L594.7 177.9L582.3 177.9zM591.0 166.9L597.2 177.9L584.8 177.9zM581.0 169.3L587.2 180.3L574.8 180.3zM583.5 169.3L589.7 180.3L577.3 180.3zM586.0 169.3L592.2 180.3L579.8 180.3zM588.5 169.3L594.7 180.3L582.3 180.3zM591.0 169.3L597.2 180.3L584.8 180.3zM581.0 171.7L587.2 182.7L574.8 182.7zM583.5 171.7L589.7 182.7L577.3 182.7zM586.0 171.7L592.2 182.7L579.8 182.7zM588.5 171.7L594.7 182.7L582.3 182.7zM591.0 171.7L597.2 182.7L584.8 182.7zM581.0 174.1L587.2 185.1L574.8 185.1zM583.5 174.1L589.7 185.1L577.3 185.1zM586.0 174.1L592.2 185.1L579.8 185.1zM588.5 174.1L594.7 185.1L582.3 185.1zM591.0 174.1L597.2 185.1L584.8 185.1zM581.0 176.5L587.2 187.5L574.8 187.5zM583.5 176.5L589.7 187.5L577.3 187.5zM586.0 176.5L592.2 187.5L579.8 187.5zM588.5 176.5L594.7 187.5L582.3 187.5zM591.0 176.5L597.2 187.5L584.8 187.5z" fill="none" stroke="#d95f02" stroke-width="1.5" stroke-linejoin="miter"/>
<path d="M464.1 110.2h8.5v8.5h-8.5zM638.6 41.4h8.5v8.5h-8.5zM641.5 59.0h8.5v8.5h-8.5zM648.5 70.3h8.5v8.5h-8.5zM602.8 94.7h8.5v8.5h-8.5zM552.5 166.4h8.5v8.5h-8.5z" fill="none" stroke="#e7298a" stroke-width="1.5" stroke-linejoin="miter"/>
<path d="M424.2 46.1L430.4 57.1L418.0 57.1zM473.6 71.3L479.8 82.3L467.4 82.3zM459.2 79.0L465.4 90.0L453.0 90.0zM449.8 90.5L456.0 101.5L443.6 101.5zM447.5 105.6L453.7 116.6L441.3 116.6zM433.3 113.8L439.5 124.8L427.1 124.8zM453.8 121.8L460.0 132.8L447.6 132.8zM432.2 140.5L438.4 151.5L426.0 151.5zM525.0 107.7L531.2 118.7L518.8 118.7zM533.6 103.1L539.8 114.1L527.4 114.1zM549.3 111.0L555.5 122.0L543.1 122.0zM555.3 131.0L561.5 142.0L549.1 142.0zM535.9 139.0L542.1 150.0L529.7 150.0zM537.8 145.1L544.0 156.1L531.6 156.1z" fill="none" stroke="#e7298a" stroke-width="1.5" stroke-linejoin="miter"/>
<path d="M638.1 218.3h8.5v8.5h-8.5zM657.4 220.2h8.5v8.5h-8.5zM603.6 234.3h8.5v8.5h-8.5zM635.5 238.2h8.5v8.5h-8.5zM649.6 238.9h8.5v8.5h-8.5zM649.6 242.8h8.5v8.5h-8.5zM649.6 246.7h8.5v8.5h-8.5z" fill="none" stroke="#e6ab02" stroke-width="1.5" stroke-linejoin="miter"/>
<path d="M632.8 165.8h8.5v8.5h-8.5zM637.8 163.8h8.5v8.5h-8.5zM642.8 163.2h8.5v8.5h-8.5zM646.8 164.8h8.5v8.5h-8.5zM648.8 167.8h8.5v8.5h-8.5zM634.8 170.8h8.5v8.5h-8.5zM639.8 169.8h8.5v8.5h-8.5zM644.8 169.8h8.5v8.5h-8.5zM632.8 175.8h8.5v8.5h-8.5zM637.8 174.8h8.5v8.5h-8.5zM642.8 173.8h8.5v8.5h-8.5zM647.8 172.8h8.5v8.5h-8.5z" fill="none" stroke="#7570b3" stroke-width="1.5" stroke-linejoin="miter"/>
<path d="M602.8 184.5L609.0 195.5L596.6 195.5zM608.0 182.5L614.2 193.5L601.8 193.5zM619.2 178.5L625.4 189.5L613.0 189.5zM613.0 184.5L619.2 195.5L606.8 195.5zM617.0 183.5L623.2 194.5L610.8 194.5zM621.0 184.5L627.2 195.5L614.8 195.5zM625.0 186.5L631.2 197.5L618.8 197.5zM615.0 188.5L621.2 199.5L608.8 199.5zM620.0 189.5L626.2 200.5L613.8 200.5zM624.0 190.5L630.2 201.5L617.8 201.5zM611.0 189.5L617.2 200.5L604.8 200.5z" fill="none" stroke="#7570b3" stroke-width="1.5" stroke-linejoin="miter"/>
<path d="M634.4 189.2h8.5v8.5h-8.5zM634.4 195.3h8.5v8.5h-8.5zM628.1 197.7h8.5v8.5h-8.5zM635.9 202.9h8.5v8.5h-8.5zM632.8 206.1h8.5v8.5h-8.5zM626.6 202.9h8.5v8.5h-8.5zM606.8 194.6h8.5v8.5h-8.5zM606.8 199.9h8.5v8.5h-8.5zM612.9 207.6h8.5v8.5h-8.5zM600.8 195.8h8.5v8.5h-8.5zM615.8 200.8h8.5v8.5h-8.5zM603.8 205.8h8.5v8.5h-8.5z" fill="none" stroke="#66a61e" stroke-width="1.5" stroke-linejoin="miter"/>
<path d="M577.3 197.9L583.5 208.9L571.1 208.9zM591.8 194.1L598.0 205.1L585.6 205.1zM595.7 213.2L601.9 224.2L589.5 224.2zM600.3 215.5L606.5 226.5L594.1 226.5zM591.1 225.2L597.3 236.2L584.9 236.2zM617.1 212.0L623.3 223.0L610.9 223.0zM605.0 209.5L611.2 220.5L598.8 220.5zM610.0 204.5L616.2 215.5L603.8 215.5zM622.0 206.5L628.2 217.5L615.8 217.5zM598.0 204.5L604.2 215.5L591.8 215.5zM598.0 216.5L604.2 227.5L591.8 227.5zM602.0 213.5L608.2 224.5L595.8 224.5zM596.0 208.5L602.2 219.5L589.8 219.5zM578.0 199.5L584.2 210.5L571.8 210.5z" fill="none" stroke="#66a61e" stroke-width="1.5" stroke-linejoin="miter"/>
<path d="M96.2 640.2h8.5v8.5h-8.5zM98.2 640.2h8.5v8.5h-8.5zM100.2 640.2h8.5v8.5h-8.5zM102.2 640.2h8.5v8.5h-8.5zM96.2 642.2h8.5v8.5h-8.5zM98.2 642.2h8.5v8.5h-8.5zM100.2 642.2h8.5v8.5h-8.5zM102.2 642.2h8.5v8.5h-8.5zM96.2 644.2h8.5v8.5h-8.5zM98.2 644.2h8.5v8.5h-8.5zM100.2 644.2h8.5v8.5h-8.5zM102.2 644.2h8.5v8.5h-8.5zM96.2 646.2h8.5v8.5h-8.5zM98.2 646.2h8.5v8.5h-8.5zM100.2 646.2h8.5v8.5h-8.5zM102.2 646.2h8.5v8.5h-8.5zM96.2 648.2h8.5v8.5h-8.5zM98.2 648.2h8.5v8.5h-8.5zM100.2 648.2h8.5v8.5h-8.5zM102.2 648.2h8.5v8.5h-8.5zM96.2 650.2h8.5v8.5h-8.5zM98.2 650.2h8.5v8.5h-8.5zM100.2 650.2h8.5v8.5h-8.5zM102.2 650.2h8.5v8.5h-8.5zM96.2 652.2h8.5v8.5h-8.5zM98.2 652.2h8.5v8.5h-8.5zM100.2 652.2h8.5v8.5h-8.5zM102.2 652.2h8.5v8.5h-8.5z" fill="none" stroke="#000000" stroke-width="1.5" stroke-linejoin="miter"/>
<path d="M121.5 736.5L127.7 747.5L115.3 747.5zM119.2 738.5L125.4 749.5L113.0 749.5zM121.2 738.5L127.4 749.5L115.0 749.5zM123.2 738.5L129.4 749.5L117.0 749.5zM125.2 738.5L131.4 749.5L119.0 749.5zM119.2 740.5L125.4 751.5L113.0 751.5zM121.2 740.5L127.4 751.5L115.0 751.5zM123.2 740.5L129.4 751.5L117.0 751.5zM125.2 740.5L131.4 751.5L119.0 751.5zM119.2 742.5L125.4 753.5L113.0 753.5zM121.2 742.5L127.4 753.5L115.0 753.5zM123.2 742.5L129.4 753.5L117.0 753.5zM125.2 742.5L131.4 753.5L119.0 753.5zM119.2 744.5L125.4 755.5L113.0 755.5zM121.2 744.5L127.4 755.5L115.0 755.5zM123.2 744.5L129.4 755.5L117.0 755.5zM125.2 744.5L131.4 755.5L119.0 755.5z" fill="none" stroke="#000000" stroke-width="1.5" stroke-linejoin="miter"/>
<path d="M152.2 740.8h8.5v8.5h-8.5zM154.2 740.8h8.5v8.5h-8.5zM156.2 740.8h8.5v8.5h-8.5zM158.2 740.8h8.5v8.5h-8.5zM152.2 742.8h8.5v8.5h-8.5zM154.2 742.8h8.5v8.5h-8.5zM156.2 742.8h8.5v8.5h-8.5zM158.2 742.8h8.5v8.5h-8.5zM152.2 744.8h8.5v8.5h-8.5zM154.2 744.8h8.5v8.5h-8.5zM156.2 744.8h8.5v8.5h-8.5zM158.2 744.8h8.5v8.5h-8.5zM152.2 746.8h8.5v8.5h-8.5zM154.2 746.8h8.5v8.5h-8.5zM156.2 746.8h8.5v8.5h-8.5zM158.2 746.8h8.5v8.5h-8.5z" fill="none" stroke="#1b9e77" stroke-width="1.5" stroke-linejoin="miter"/>
<path d="M142.6 729.5L148.8 740.5L136.4 740.5zM138.5 731.5L144.7 742.5L132.3 742.5zM140.3 731.5L146.5 742.5L134.1 742.5zM142.1 731.5L148.3 742.5L135.9 742.5zM143.9 731.5L150.1 742.5L137.7 742.5zM138.5 733.5L144.7 744.5L132.3 744.5zM140.3 733.5L146.5 744.5L134.1 744.5zM142.1 733.5L148.3 744.5L135.9 744.5zM143.9 733.5L150.1 744.5L137.7 744.5zM138.5 735.5L144.7 746.5L132.3 746.5zM140.3 735.5L146.5 746.5L134.1 746.5zM142.1 735.5L148.3 746.5L135.9 746.5zM143.9 735.5L150.1 746.5L137.7 746.5zM138.5 737.5L144.7 748.5L132.3 748.5zM140.3 737.5L146.5 748.5L134.1 748.5zM142.1 737.5L148.3 748.5L135.9 748.5zM143.9 737.5L150.1 748.5L137.7 748.5z" fill="none" stroke="#1b9e77" stroke-width="1.5" stroke-linejoin="miter"/>
<path d="M189.8 730.5h8.5v8.5h-8.5zM191.8 730.5h8.5v8.5h-8.5zM193.8 730.5h8.5v8.5h-8.5zM195.8 730.5h8.5v8.5h-8.5zM189.8 732.6h8.5v8.5h-8.5zM191.8 732.6h8.5v8.5h-8.5zM193.8 732.6h8.5v8.5h-8.5zM195.8 732.6h8.5v8.5h-8.5zM189.8 734.9h8.5v8.5h-8.5zM191.8 734.9h8.5v8.5h-8.5zM193.8 734.9h8.5v8.5h-8.5zM195.8 734.9h8.5v8.5h-8.5zM189.8 737.0h8.5v8.5h-8.5zM191.8 737.0h8.5v8.5h-8.5zM193.8 737.0h8.5v8.5h-8.5zM195.8 737.0h8.5v8.5h-8.5zM189.8 739.2h8.5v8.5h-8.5zM191.8 739.2h8.5v8.5h-8.5zM193.8 739.2h8.5v8.5h-8.5zM195.8 739.2h8.5v8.5h-8.5zM189.8 741.5h8.5v8.5h-8.5zM191.8 741.5h8.5v8.5h-8.5zM193.8 741.5h8.5v8.5h-8.5zM195.8 741.5h8.5v8.5h-8.5z" fill="none" stroke="#d95f02" stroke-width="1.5" stroke-linejoin="miter"/>
<path d="M181.1 708.5L187.3 719.5L174.9 719.5zM175.3 710.5L181.5 721.5L169.1 721.5zM177.1 710.5L183.3 721.5L170.9 721.5zM178.9 710.5L185.1 721.5L172.7 721.5zM180.7 710.5L186.9 721.5L174.5 721.5zM182.5 710.5L188.7 721.5L176.3 721.5zM175.3 712.1L181.5 723.1L169.1 723.1zM177.1 712.1L183.3 723.1L170.9 723.1zM178.9 712.1L185.1 723.1L172.7 723.1zM180.7 712.1L186.9 723.1L174.5 723.1zM182.5 712.1L188.7 723.1L176.3 723.1zM175.3 713.7L181.5 724.7L169.1 724.7zM177.1 713.7L183.3 724.7L170.9 724.7zM178.9 713.7L185.1 724.7L172.7 724.7zM180.7 713.7L186.9 724.7L174.5 724.7zM182.5 713.7L188.7 724.7L176.3 724.7zM175.3 715.3L181.5 726.3L169.1 726.3zM177.1 715.3L183.3 726.3L170.9 726.3zM178.9 715.3L185.1 726.3L172.7 726.3zM180.7 715.3L186.9 726.3L174.5 726.3zM182.5 715.3L188.7 726.3L176.3 726.3zM175.3 716.9L181.5 727.9L169.1 727.9zM177.1 716.9L183.3 727.9L170.9 727.9zM178.9 716.9L185.1 727.9L172.7 727.9zM180.7 716.9L186.9 727.9L174.5 727.9zM182.5 716.9L188.7 727.9L176.3 727.9z" fill="none" stroke="#d95f02" stroke-width="1.5" stroke-linejoin="miter"/>
<path d="M232.2 591.4h8.5v8.5h-8.5zM227.2 612.4h8.5v8.5h-8.5zM233.9 609.2h8.5v8.5h-8.5zM233.8 614.2h8.5v8.5h-8.5zM233.6 619.2h8.5v8.5h-8.5zM229.2 632.2h8.5v8.5h-8.5zM231.8 632.8h8.5v8.5h-8.5zM230.2 634.8h8.5v8.5h-8.5zM229.8 630.2h8.5v8.5h-8.5zM231.8 635.8h8.5v8.5h-8.5zM229.2 643.8h8.5v8.5h-8.5zM229.2 646.8h8.5v8.5h-8.5zM232.4 663.5h8.5v8.5h-8.5zM229.8 676.8h8.5v8.5h-8.5z" fill="none" stroke="#e7298a" stroke-width="1.5" stroke-linejoin="miter"/>
<path d="M215.5 516.4L221.7 527.4L209.3 527.4zM219.5 526.7L225.7 537.7L213.3 537.7zM217.5 542.1L223.7 553.1L211.3 553.1zM218.7 560.5L224.9 571.5L212.5 571.5zM213.5 603.5L219.7 614.5L207.3 614.5zM216.0 606.5L222.2 617.5L209.8 617.5zM215.0 609.5L221.2 620.5L208.8 620.5zM217.0 608.5L223.2 619.5L210.8 619.5zM214.0 605.5L220.2 616.5L207.8 616.5zM216.0 622.5L222.2 633.5L209.8 633.5zM218.0 625.5L224.2 636.5L211.8 636.5zM214.0 627.5L220.2 638.5L207.8 638.5zM218.0 633.5L224.2 644.5L211.8 644.5zM216.0 642.5L222.2 653.5L209.8 653.5z" fill="none" stroke="#e7298a" stroke-width="1.5" stroke-linejoin="miter"/>
<path d="M266.8 626.5h8.5v8.5h-8.5zM270.2 626.8h8.5v8.5h-8.5zM268.2 629.8h8.5v8.5h-8.5zM266.8 632.8h8.5v8.5h-8.5zM269.8 632.8h8.5v8.5h-8.5zM268.2 635.8h8.5v8.5h-8.5zM267.2 638.8h8.5v8.5h-8.5zM270.2 637.8h8.5v8.5h-8.5zM268.2 641.2h8.5v8.5h-8.5z" fill="none" stroke="#e6ab02" stroke-width="1.5" stroke-linejoin="miter"/>
<path d="M251.8 581.5L258.0 592.5L245.6 592.5zM253.5 583.5L259.7 594.5L247.3 594.5zM255.0 586.5L261.2 597.5L248.8 597.5zM252.0 589.5L258.2 600.5L245.8 600.5zM254.5 591.5L260.7 602.5L248.3 602.5zM253.0 594.5L259.2 605.5L246.8 605.5zM256.0 597.5L262.2 608.5L249.8 608.5zM252.5 599.5L258.7 610.5L246.3 610.5zM255.0 601.5L261.2 612.5L248.8 612.5zM252.0 604.5L258.2 615.5L245.8 615.5zM254.5 606.5L260.7 617.5L248.3 617.5zM251.5 608.5L257.7 619.5L245.3 619.5zM256.5 614.5L262.7 625.5L250.3 625.5z" fill="none" stroke="#e6ab02" stroke-width="1.5" stroke-linejoin="miter"/>
<path d="M305.8 590.5h8.5v8.5h-8.5zM307.8 593.8h8.5v8.5h-8.5zM304.2 596.8h8.5v8.5h-8.5zM309.2 596.8h8.5v8.5h-8.5zM306.8 599.8h8.5v8.5h-8.5zM303.8 602.8h8.5v8.5h-8.5zM309.2 602.8h8.5v8.5h-8.5zM306.2 605.8h8.5v8.5h-8.5zM305.2 609.8h8.5v8.5h-8.5zM307.2 609.8h8.5v8.5h-8.5z" fill="none" stroke="#7570b3" stroke-width="1.5" stroke-linejoin="miter"/>
<path d="M291.4 594.5L297.6 605.5L285.2 605.5zM288.5 596.5L294.7 607.5L282.3 607.5zM290.3 596.5L296.5 607.5L284.1 607.5zM292.1 596.5L298.3 607.5L285.9 607.5zM293.9 596.5L300.1 607.5L287.7 607.5zM288.5 598.5L294.7 609.5L282.3 609.5zM290.3 598.5L296.5 609.5L284.1 609.5zM292.1 598.5L298.3 609.5L285.9 609.5zM293.9 598.5L300.1 609.5L287.7 609.5zM288.5 600.5L294.7 611.5L282.3 611.5zM290.3 600.5L296.5 611.5L284.1 611.5zM292.1 600.5L298.3 611.5L285.9 611.5zM293.9 600.5L300.1 611.5L287.7 611.5zM288.5 602.5L294.7 613.5L282.3 613.5zM290.3 602.5L296.5 613.5L284.1 613.5zM292.1 602.5L298.3 613.5L285.9 613.5zM293.9 602.5L300.1 613.5L287.7 613.5zM288.5 604.5L294.7 615.5L282.3 615.5zM290.3 604.5L296.5 615.5L284.1 615.5zM292.1 604.5L298.3 615.5L285.9 615.5zM293.9 604.5L300.1 615.5L287.7 615.5zM288.5 606.5L294.7 617.5L282.3 617.5zM290.3 606.5L296.5 617.5L284.1 617.5zM292.1 606.5L298.3 617.5L285.9 617.5zM293.9 606.5L300.1 617.5L287.7 617.5zM288.5 608.5L294.7 619.5L282.3 619.5zM290.3 608.5L296.5 619.5L284.1 619.5zM292.1 608.5L298.3 619.5L285.9 619.5zM293.9 608.5L300.1 619.5L287.7 619.5z" fill="none" stroke="#7570b3" stroke-width="1.5" stroke-linejoin="miter"/>
<path d="M340.9 573.5h8.5v8.5h-8.5zM342.9 573.5h8.5v8.5h-8.5zM344.9 573.5h8.5v8.5h-8.5zM346.9 573.5h8.5v8.5h-8.5zM340.9 575.5h8.5v8.5h-8.5zM342.9 575.5h8.5v8.5h-8.5zM344.9 575.5h8.5v8.5h-8.5zM346.9 575.5h8.5v8.5h-8.5zM340.9 577.5h8.5v8.5h-8.5zM342.9 577.5h8.5v8.5h-8.5zM344.9 577.5h8.5v8.5h-8.5zM346.9 577.5h8.5v8.5h-8.5zM340.9 579.5h8.5v8.5h-8.5zM342.9 579.5h8.5v8.5h-8.5zM344.9 579.5h8.5v8.5h-8.5zM346.9 579.5h8.5v8.5h-8.5zM340.9 581.5h8.5v8.5h-8.5zM342.9 581.5h8.5v8.5h-8.5zM344.9 581.5h8.5v8.5h-8.5zM346.9 581.5h8.5v8.5h-8.5zM340.9 583.5h8.5v8.5h-8.5zM342.9 583.5h8.5v8.5h-8.5zM344.9 583.5h8.5v8.5h-8.5zM346.9 583.5h8.5v8.5h-8.5zM340.9 585.5h8.5v8.5h-8.5zM342.9 585.5h8.5v8.5h-8.5zM344.9 585.5h8.5v8.5h-8.5zM346.9 585.5h8.5v8.5h-8.5zM340.9 587.5h8.5v8.5h-8.5zM342.9 587.5h8.5v8.5h-8.5zM344.9 587.5h8.5v8.5h-8.5zM346.9 587.5h8.5v8.5h-8.5z" fill="none" stroke="#66a61e" stroke-width="1.5" stroke-linejoin="miter"/>
<path d="M330.2 593.8L336.4 604.8L324.0 604.8zM326.3 595.5L332.5 606.5L320.1 606.5zM328.1 595.5L334.3 606.5L321.9 606.5zM329.9 595.5L336.1 606.5L323.7 606.5zM331.7 595.5L337.9 606.5L325.5 606.5zM326.3 597.3L332.5 608.3L320.1 608.3zM328.1 597.3L334.3 608.3L321.9 608.3zM329.9 597.3L336.1 608.3L323.7 608.3zM331.7 597.3L337.9 608.3L325.5 608.3zM326.3 599.1L332.5 610.1L320.1 610.1zM328.1 599.1L334.3 610.1L321.9 610.1zM329.9 599.1L336.1 610.1L323.7 610.1zM331.7 599.1L337.9 610.1L325.5 610.1zM326.3 600.9L332.5 611.9L320.1 611.9zM328.1 600.9L334.3 611.9L321.9 611.9zM329.9 600.9L336.1 611.9L323.7 611.9zM331.7 600.9L337.9 611.9L325.5 611.9z" fill="none" stroke="#66a61e" stroke-width="1.5" stroke-linejoin="miter"/>
<path d="M406.6 653.1h8.5v8.5h-8.5zM408.6 653.1h8.5v8.5h-8.5zM410.6 653.1h8.5v8.5h-8.5zM406.6 655.4h8.5v8.5h-8.5zM408.6 655.4h8.5v8.5h-8.5zM410.6 655.4h8.5v8.5h-8.5zM406.6 657.5h8.5v8.5h-8.5zM408.6 657.5h8.5v8.5h-8.5zM410.6 657.5h8.5v8.5h-8.5zM406.6 659.8h8.5v8.5h-8.5zM408.6 659.8h8.5v8.5h-8.5zM410.6 659.8h8.5v8.5h-8.5zM406.6 662.0h8.5v8.5h-8.5zM408.6 662.0h8.5v8.5h-8.5zM410.6 662.0h8.5v8.5h-8.5zM406.6 664.1h8.5v8.5h-8.5zM408.6 664.1h8.5v8.5h-8.5zM410.6 664.1h8.5v8.5h-8.5zM406.6 666.4h8.5v8.5h-8.5zM408.6 666.4h8.5v8.5h-8.5zM410.6 666.4h8.5v8.5h-8.5zM406.6 668.5h8.5v8.5h-8.5zM408.6 668.5h8.5v8.5h-8.5zM410.6 668.5h8.5v8.5h-8.5zM406.6 670.8h8.5v8.5h-8.5zM408.6 670.8h8.5v8.5h-8.5zM410.6 670.8h8.5v8.5h-8.5zM406.6 673.0h8.5v8.5h-8.5zM408.6 673.0h8.5v8.5h-8.5zM410.6 673.0h8.5v8.5h-8.5z" fill="none" stroke="#000000" stroke-width="1.5" stroke-linejoin="miter"/>
<path d="M436.0 732.0L442.2 743.0L429.8 743.0zM428.5 736.0L434.7 747.0L422.3 747.0zM428.5 738.5L434.7 749.5L422.3 749.5zM430.3 738.5L436.5 749.5L424.1 749.5zM432.1 738.5L438.3 749.5L425.9 749.5zM433.9 738.5L440.1 749.5L427.7 749.5zM428.5 740.5L434.7 751.5L422.3 751.5zM430.3 740.5L436.5 751.5L424.1 751.5zM432.1 740.5L438.3 751.5L425.9 751.5zM433.9 740.5L440.1 751.5L427.7 751.5zM428.5 742.5L434.7 753.5L422.3 753.5zM430.3 742.5L436.5 753.5L424.1 753.5zM432.1 742.5L438.3 753.5L425.9 753.5zM433.9 742.5L440.1 753.5L427.7 753.5zM428.5 744.5L434.7 755.5L422.3 755.5zM430.3 744.5L436.5 755.5L424.1 755.5zM432.1 744.5L438.3 755.5L425.9 755.5zM433.9 744.5L440.1 755.5L427.7 755.5zM428.5 746.5L434.7 757.5L422.3 757.5zM430.3 746.5L436.5 757.5L424.1 757.5zM432.1 746.5L438.3 757.5L425.9 757.5zM433.9 746.5L440.1 757.5L427.7 757.5zM428.5 748.5L434.7 759.5L422.3 759.5zM430.3 748.5L436.5 759.5L424.1 759.5zM432.1 748.5L438.3 759.5L425.9 759.5zM433.9 748.5L440.1 759.5L427.7 759.5z" fill="none" stroke="#000000" stroke-width="1.5" stroke-linejoin="miter"/>
<path d="M462.8 711.0h8.5v8.5h-8.5zM468.2 711.5h8.5v8.5h-8.5zM465.2 714.2h8.5v8.5h-8.5zM462.8 717.8h8.5v8.5h-8.5zM467.8 718.2h8.5v8.5h-8.5zM465.2 721.8h8.5v8.5h-8.5zM462.8 724.8h8.5v8.5h-8.5zM468.2 725.2h8.5v8.5h-8.5zM465.2 728.2h8.5v8.5h-8.5zM463.2 731.2h8.5v8.5h-8.5zM467.8 730.8h8.5v8.5h-8.5z" fill="none" stroke="#1b9e77" stroke-width="1.5" stroke-linejoin="miter"/>
<path d="M450.9 672.2L457.1 683.2L444.7 683.2zM448.0 674.5L454.2 685.5L441.8 685.5zM449.8 674.5L456.0 685.5L443.6 685.5zM451.6 674.5L457.8 685.5L445.4 685.5zM453.4 674.5L459.6 685.5L447.2 685.5zM448.0 676.5L454.2 687.5L441.8 687.5zM449.8 676.5L456.0 687.5L443.6 687.5zM451.6 676.5L457.8 687.5L445.4 687.5zM453.4 676.5L459.6 687.5L447.2 687.5zM448.0 678.5L454.2 689.5L441.8 689.5zM449.8 678.5L456.0 689.5L443.6 689.5zM451.6 678.5L457.8 689.5L445.4 689.5zM453.4 678.5L459.6 689.5L447.2 689.5zM448.0 680.5L454.2 691.5L441.8 691.5zM449.8 680.5L456.0 691.5L443.6 691.5zM451.6 680.5L457.8 691.5L445.4 691.5zM453.4 680.5L459.6 691.5L447.2 691.5zM448.0 682.5L454.2 693.5L441.8 693.5zM449.8 682.5L456.0 693.5L443.6 693.5zM451.6 682.5L457.8 693.5L445.4 693.5zM453.4 682.5L459.6 693.5L447.2 693.5zM448.0 684.5L454.2 695.5L441.8 695.5zM449.8 684.5L456.0 695.5L443.6 695.5zM451.6 684.5L457.8 695.5L445.4 695.5zM453.4 684.5L459.6 695.5L447.2 695.5z" fill="none" stroke="#1b9e77" stroke-width="1.5" stroke-linejoin="miter"/>
<path d="M500.6 716.0h8.5v8.5h-8.5zM502.6 716.0h8.5v8.5h-8.5zM504.6 716.0h8.5v8.5h-8.5zM500.6 718.0h8.5v8.5h-8.5zM502.6 718.0h8.5v8.5h-8.5zM504.6 718.0h8.5v8.5h-8.5zM500.6 720.0h8.5v8.5h-8.5zM502.6 720.0h8.5v8.5h-8.5zM504.6 720.0h8.5v8.5h-8.5zM500.6 722.0h8.5v8.5h-8.5zM502.6 722.0h8.5v8.5h-8.5zM504.6 722.0h8.5v8.5h-8.5zM500.6 724.0h8.5v8.5h-8.5zM502.6 724.0h8.5v8.5h-8.5zM504.6 724.0h8.5v8.5h-8.5zM500.6 726.0h8.5v8.5h-8.5zM502.6 726.0h8.5v8.5h-8.5zM504.6 726.0h8.5v8.5h-8.5zM500.6 728.0h8.5v8.5h-8.5zM502.6 728.0h8.5v8.5h-8.5zM504.6 728.0h8.5v8.5h-8.5z" fill="none" stroke="#d95f02" stroke-width="1.5" stroke-linejoin="miter"/>
<path d="M487.5 688.5L493.7 699.5L481.3 699.5zM486.0 691.5L492.2 702.5L479.8 702.5zM489.0 693.5L495.2 704.5L482.8 704.5zM487.0 696.5L493.2 707.5L480.8 707.5zM490.0 699.5L496.2 710.5L483.8 710.5zM486.0 701.5L492.2 712.5L479.8 712.5zM488.5 704.5L494.7 715.5L482.3 715.5zM486.0 707.5L492.2 718.5L479.8 718.5zM490.0 708.5L496.2 719.5L483.8 719.5zM487.5 711.5L493.7 722.5L481.3 722.5z" fill="none" stroke="#d95f02" stroke-width="1.5" stroke-linejoin="miter"/>
<path d="M540.2 439.9h8.5v8.5h-8.5zM545.1 450.2h8.5v8.5h-8.5zM536.9 453.1h8.5v8.5h-8.5zM540.2 456.6h8.5v8.5h-8.5zM542.4 460.8h8.5v8.5h-8.5zM538.1 469.1h8.5v8.5h-8.5zM543.8 471.8h8.5v8.5h-8.5zM539.5 483.6h8.5v8.5h-8.5zM542.4 492.6h8.5v8.5h-8.5zM542.4 501.6h8.5v8.5h-8.5zM538.1 502.9h8.5v8.5h-8.5zM539.5 519.0h8.5v8.5h-8.5zM540.8 453.8h8.5v8.5h-8.5zM542.8 465.8h8.5v8.5h-8.5z" fill="none" stroke="#e7298a" stroke-width="1.5" stroke-linejoin="miter"/>
<path d="M524.4 419.2L530.6 430.2L518.2 430.2zM526.5 422.7L532.7 433.7L520.3 433.7zM525.0 425.5L531.2 436.5L518.8 436.5zM523.0 446.7L529.2 457.7L516.8 457.7zM530.0 444.2L536.2 455.2L523.8 455.2zM526.0 445.5L532.2 456.5L519.8 456.5zM527.5 484.7L533.7 495.7L521.3 495.7zM529.3 502.1L535.5 513.1L523.1 513.1zM527.5 512.1L533.7 523.1L521.3 523.1zM526.0 509.5L532.2 520.5L519.8 520.5zM528.0 506.5L534.2 517.5L521.8 517.5z" fill="none" stroke="#e7298a" stroke-width="1.5" stroke-linejoin="miter"/>
<path d="M576.5 503.4h8.5v8.5h-8.5zM578.5 503.4h8.5v8.5h-8.5zM580.5 503.4h8.5v8.5h-8.5zM576.5 505.6h8.5v8.5h-8.5zM578.5 505.6h8.5v8.5h-8.5zM580.5 505.6h8.5v8.5h-8.5zM576.5 507.9h8.5v8.5h-8.5zM578.5 507.9h8.5v8.5h-8.5zM580.5 507.9h8.5v8.5h-8.5zM576.5 510.0h8.5v8.5h-8.5zM578.5 510.0h8.5v8.5h-8.5zM580.5 510.0h8.5v8.5h-8.5zM576.5 512.2h8.5v8.5h-8.5zM578.5 512.2h8.5v8.5h-8.5zM580.5 512.2h8.5v8.5h-8.5zM579.8 524.6h8.5v8.5h-8.5zM575.8 530.6h8.5v8.5h-8.5zM576.1 536.6h8.5v8.5h-8.5zM577.6 560.0h8.5v8.5h-8.5zM578.8 517.8h8.5v8.5h-8.5zM577.8 520.8h8.5v8.5h-8.5z" fill="none" stroke="#e6ab02" stroke-width="1.5" stroke-linejoin="miter"/>
<path d="M564.6 422.0L570.8 433.0L558.4 433.0zM567.4 421.3L573.6 432.3L561.2 432.3zM566.0 428.9L572.2 439.9L559.8 439.9zM565.0 425.5L571.2 436.5L558.8 436.5zM563.0 424.5L569.2 435.5L556.8 435.5zM560.5 439.3L566.7 450.3L554.3 450.3zM562.0 441.5L568.2 452.5L555.8 452.5zM563.3 448.3L569.5 459.3L557.1 459.3zM566.0 449.7L572.2 460.7L559.8 460.7zM561.9 451.1L568.1 462.1L555.7 462.1zM564.0 446.5L570.2 457.5L557.8 457.5zM565.0 452.5L571.2 463.5L558.8 463.5zM563.0 444.5L569.2 455.5L556.8 455.5zM567.4 462.9L573.6 473.9L561.2 473.9zM562.6 471.9L568.8 482.9L556.4 482.9zM564.0 468.5L570.2 479.5L557.8 479.5zM565.0 465.5L571.2 476.5L558.8 476.5zM563.0 470.5L569.2 481.5L556.8 481.5z" fill="none" stroke="#e6ab02" stroke-width="1.5" stroke-linejoin="miter"/>
<path d="M616.8 598.8h8.5v8.5h-8.5zM614.8 602.8h8.5v8.5h-8.5zM618.2 603.8h8.5v8.5h-8.5zM613.5 606.8h8.5v8.5h-8.5zM616.8 607.8h8.5v8.5h-8.5zM613.8 610.8h8.5v8.5h-8.5zM618.8 611.8h8.5v8.5h-8.5zM615.8 614.2h8.5v8.5h-8.5zM613.5 615.8h8.5v8.5h-8.5zM617.8 616.8h8.5v8.5h-8.5zM615.8 619.8h8.5v8.5h-8.5zM617.2 621.2h8.5v8.5h-8.5zM614.8 611.8h8.5v8.5h-8.5z" fill="none" stroke="#7570b3" stroke-width="1.5" stroke-linejoin="miter"/>
<path d="M598.6 599.0L604.8 610.0L592.4 610.0zM604.9 600.3L611.1 611.3L598.7 611.3zM599.0 603.5L605.2 614.5L592.8 614.5zM604.0 604.5L610.2 615.5L597.8 615.5zM601.0 606.5L607.2 617.5L594.8 617.5zM597.5 608.5L603.7 619.5L591.3 619.5zM604.5 609.5L610.7 620.5L598.3 620.5zM600.0 611.5L606.2 622.5L593.8 622.5zM603.0 613.5L609.2 624.5L596.8 624.5zM598.5 615.0L604.7 626.0L592.3 626.0zM602.0 616.0L608.2 627.0L595.8 627.0zM600.5 609.5L606.7 620.5L594.3 620.5z" fill="none" stroke="#7570b3" stroke-width="1.5" stroke-linejoin="miter"/>
<path d="M651.0 599.5h8.5v8.5h-8.5zM652.8 599.5h8.5v8.5h-8.5zM654.5 599.5h8.5v8.5h-8.5zM651.0 601.5h8.5v8.5h-8.5zM652.8 601.5h8.5v8.5h-8.5zM654.5 601.5h8.5v8.5h-8.5zM651.0 603.5h8.5v8.5h-8.5zM652.8 603.5h8.5v8.5h-8.5zM654.5 603.5h8.5v8.5h-8.5zM651.0 605.5h8.5v8.5h-8.5zM652.8 605.5h8.5v8.5h-8.5zM654.5 605.5h8.5v8.5h-8.5zM651.0 607.5h8.5v8.5h-8.5zM652.8 607.5h8.5v8.5h-8.5zM654.5 607.5h8.5v8.5h-8.5zM652.2 612.2h8.5v8.5h-8.5zM657.5 617.6h8.5v8.5h-8.5zM654.8 607.8h8.5v8.5h-8.5z" fill="none" stroke="#66a61e" stroke-width="1.5" stroke-linejoin="miter"/>
<path d="M638.4 623.1L644.6 634.1L632.2 634.1zM637.5 626.5L643.7 637.5L631.3 637.5zM639.5 628.5L645.7 639.5L633.3 639.5zM636.5 631.5L642.7 642.5L630.3 642.5zM640.5 632.5L646.7 643.5L634.3 643.5zM638.0 634.5L644.2 645.5L631.8 645.5zM635.8 637.5L642.0 648.5L629.6 648.5zM641.8 637.5L648.0 648.5L635.6 648.5zM638.5 639.0L644.7 650.0L632.3 650.0zM636.5 640.7L642.7 651.7L630.3 651.7zM641.0 641.0L647.2 652.0L634.8 652.0zM639.0 641.5L645.2 652.5L632.8 652.5z" fill="none" stroke="#66a61e" stroke-width="1.5" stroke-linejoin="miter"/>
<path d="M163.22 268.5v-3.5M163.22 10.2v3.5M227.95 268.5v-3.5M227.95 10.2v3.5M292.67 268.5v-3.5M292.67 10.2v3.5M98.5 203.93h3.5M357.4 203.93h-3.5M98.5 139.35h3.5M357.4 139.35h-3.5M98.5 74.77h3.5M357.4 74.77h-3.5" stroke="#262626" stroke-width="1.3" fill="none"/>
<rect x="98.5" y="10.2" width="258.90" height="258.30" fill="none" stroke="#262626" stroke-width="1.5"/>
<path d="M473.55 268.5v-3.5M473.55 10.2v3.5M538.30 268.5v-3.5M538.30 10.2v3.5M603.05 268.5v-3.5M603.05 10.2v3.5M408.8 203.93h3.5M667.8 203.93h-3.5M408.8 139.35h3.5M667.8 139.35h-3.5M408.8 74.77h3.5M667.8 74.77h-3.5" stroke="#262626" stroke-width="1.3" fill="none"/>
<rect x="408.8" y="10.2" width="259.00" height="258.30" fill="none" stroke="#262626" stroke-width="1.5"/>
<path d="M192.71 799.1v-3.5M192.71 418.0v3.5M286.82 799.1v-3.5M286.82 418.0v3.5M98.6 744.66h3.5M357.4 744.66h-3.5M98.6 690.21h3.5M357.4 690.21h-3.5M98.6 622.16h3.5M357.4 622.16h-3.5M98.6 554.11h3.5M357.4 554.11h-3.5M98.6 486.05h3.5M357.4 486.05h-3.5" stroke="#262626" stroke-width="1.3" fill="none"/>
<rect x="98.6" y="418.0" width="258.80" height="381.10" fill="none" stroke="#262626" stroke-width="1.5"/>
<path d="M502.98 799.1v-3.5M502.98 418.0v3.5M597.16 799.1v-3.5M597.16 418.0v3.5M408.8 758.27h3.5M667.8 758.27h-3.5M408.8 690.21h3.5M667.8 690.21h-3.5M408.8 622.16h3.5M667.8 622.16h-3.5M408.8 554.11h3.5M667.8 554.11h-3.5M408.8 486.05h3.5M667.8 486.05h-3.5" stroke="#262626" stroke-width="1.3" fill="none"/>
<rect x="408.8" y="418.0" width="259.00" height="381.10" fill="none" stroke="#262626" stroke-width="1.5"/>
<text transform="translate(87.00,21.70) scale(1,1.04)" font-size="29" text-anchor="end" font-weight="normal" fill="#262626">20</text>
<text transform="translate(87.00,86.27) scale(1,1.04)" font-size="29" text-anchor="end" font-weight="normal" fill="#262626">10</text>
<text transform="translate(87.00,150.85) scale(1,1.04)" font-size="29" text-anchor="end" font-weight="normal" fill="#262626">0</text>
<text transform="translate(87.00,215.43) scale(1,1.04)" font-size="29" text-anchor="end" font-weight="normal" fill="#262626">-10</text>
<text transform="translate(87.00,280.00) scale(1,1.04)" font-size="29" text-anchor="end" font-weight="normal" fill="#262626">-20</text>
<text transform="translate(87.00,429.50) scale(1,1.04)" font-size="29" text-anchor="end" font-weight="normal" fill="#262626">100</text>
<text transform="translate(87.00,497.55) scale(1,1.04)" font-size="29" text-anchor="end" font-weight="normal" fill="#262626">75</text>
<text transform="translate(87.00,565.61) scale(1,1.04)" font-size="29" text-anchor="end" font-weight="normal" fill="#262626">50</text>
<text transform="translate(87.00,633.66) scale(1,1.04)" font-size="29" text-anchor="end" font-weight="normal" fill="#262626">25</text>
<text transform="translate(87.00,701.71) scale(1,1.04)" font-size="29" text-anchor="end" font-weight="normal" fill="#262626">0</text>
<text transform="translate(87.00,756.16) scale(1,1.04)" font-size="29" text-anchor="end" font-weight="normal" fill="#262626">-20</text>
<text transform="translate(87.00,810.60) scale(1,1.04)" font-size="29" text-anchor="end" font-weight="normal" fill="#262626">-40</text>
<text transform="translate(98.90,309.50) scale(1,1.04)" font-size="29" text-anchor="middle" font-weight="normal" fill="#262626">-20</text>
<text transform="translate(163.62,309.50) scale(1,1.04)" font-size="29" text-anchor="middle" font-weight="normal" fill="#262626">-10</text>
<text transform="translate(228.35,309.50) scale(1,1.04)" font-size="29" text-anchor="middle" font-weight="normal" fill="#262626">0</text>
<text transform="translate(293.07,309.50) scale(1,1.04)" font-size="29" text-anchor="middle" font-weight="normal" fill="#262626">10</text>
<text transform="translate(357.80,309.50) scale(1,1.04)" font-size="29" text-anchor="middle" font-weight="normal" fill="#262626">20</text>
<text transform="translate(409.20,309.50) scale(1,1.04)" font-size="29" text-anchor="middle" font-weight="normal" fill="#262626">-20</text>
<text transform="translate(473.95,309.50) scale(1,1.04)" font-size="29" text-anchor="middle" font-weight="normal" fill="#262626">-10</text>
<text transform="translate(538.70,309.50) scale(1,1.04)" font-size="29" text-anchor="middle" font-weight="normal" fill="#262626">0</text>
<text transform="translate(603.45,309.50) scale(1,1.04)" font-size="29" text-anchor="middle" font-weight="normal" fill="#262626">10</text>
<text transform="translate(668.20,309.50) scale(1,1.04)" font-size="29" text-anchor="middle" font-weight="normal" fill="#262626">20</text>
<text transform="translate(171.15,347.7) scale(1.145,1)" font-size="29.5" fill="#262626">&#916;</text>
<text x="194.25" y="347.7" font-size="29.1" fill="#262626">E [mm]</text>
<text transform="translate(481.50,347.7) scale(1.145,1)" font-size="29.5" fill="#262626">&#916;</text>
<text x="504.60" y="347.7" font-size="29.1" fill="#262626">E [mm]</text>
<g transform="translate(31.1,196.4) rotate(-90)"><text transform="translate(-1.0,0) scale(1.145,1)" font-size="29.5" fill="#262626">&#916;</text><text x="22.5" y="0" font-size="29.1" fill="#262626">N [mm]</text></g>
<g transform="translate(24.3,665.7) rotate(-90)"><text transform="translate(-1.0,0) scale(1.145,1)" font-size="29.5" fill="#262626">&#916;</text><text x="22.5" y="0" font-size="29.1" fill="#262626">U [mm]</text></g>
<rect x="26.7" y="832.2" width="632.7" height="117.1" fill="#fff" stroke="#262626" stroke-width="1.3"/>
<rect x="33.30" y="840.60" width="18.6" height="18.6" fill="none" stroke="#000000" stroke-width="1.4"/>
<text x="59.8" y="858.3" font-size="28" fill="#000">JAVD</text>
<path d="M176.80 841.30L186.30 858.90L167.30 858.90z" fill="none" stroke="#000000" stroke-width="1.4"/>
<text x="192.6" y="858.3" font-size="28" fill="#000">LEIC</text>
<rect x="297.30" y="840.60" width="18.6" height="18.6" fill="none" stroke="#1b9e77" stroke-width="1.4"/>
<text x="322.5" y="858.3" font-size="28" fill="#000">AS3C</text>
<rect x="398.64" y="844.20" width="2.0" height="20.1" fill="#000"/>
<path d="M432.50 841.30L442.00 858.90L423.00 858.90z" fill="none" stroke="#1b9e77" stroke-width="1.4"/>
<text x="452.4" y="858.3" font-size="28" fill="#000">AS3C</text>
<rect x="528.54" y="844.20" width="2.0" height="20.1" fill="#000"/>
<rect x="535.84" y="844.20" width="2.0" height="20.1" fill="#000"/>
<rect x="548.90" y="840.60" width="18.6" height="18.6" fill="none" stroke="#d95f02" stroke-width="1.4"/>
<text x="575.0" y="858.3" font-size="28" fill="#000">AS2S</text>
<rect x="649.60" y="844.20" width="2.0" height="20.1" fill="#000"/>
<path d="M42.60 880.90L52.10 898.50L33.10 898.50z" fill="none" stroke="#d95f02" stroke-width="1.4"/>
<text x="59.8" y="897.9" font-size="28" fill="#000">AS2S</text>
<rect x="134.40" y="883.80" width="2.0" height="20.1" fill="#000"/>
<rect x="141.70" y="883.80" width="2.0" height="20.1" fill="#000"/>
<rect x="167.50" y="880.20" width="18.6" height="18.6" fill="none" stroke="#e7298a" stroke-width="1.4"/>
<text x="192.6" y="897.9" font-size="28" fill="#000">TGCL</text>
<rect x="270.28" y="883.80" width="2.0" height="20.1" fill="#000"/>
<path d="M306.60 880.90L316.10 898.50L297.10 898.50z" fill="none" stroke="#e7298a" stroke-width="1.4"/>
<text x="322.5" y="897.9" font-size="28" fill="#000">TGCL</text>
<rect x="400.18" y="883.80" width="2.0" height="20.1" fill="#000"/>
<rect x="407.48" y="883.80" width="2.0" height="20.1" fill="#000"/>
<rect x="423.20" y="880.20" width="18.6" height="18.6" fill="none" stroke="#e6ab02" stroke-width="1.4"/>
<text x="452.4" y="897.9" font-size="28" fill="#000">TALL</text>
<rect x="520.25" y="883.80" width="2.0" height="20.1" fill="#000"/>
<path d="M558.20 880.90L567.70 898.50L548.70 898.50z" fill="none" stroke="#e6ab02" stroke-width="1.4"/>
<text x="575.0" y="897.9" font-size="28" fill="#000">TALL</text>
<rect x="642.85" y="883.80" width="2.0" height="20.1" fill="#000"/>
<rect x="650.15" y="883.80" width="2.0" height="20.1" fill="#000"/>
<rect x="33.30" y="919.80" width="18.6" height="18.6" fill="none" stroke="#7570b3" stroke-width="1.4"/>
<text x="59.8" y="937.5" font-size="28" fill="#000">TGMA</text>
<rect x="143.68" y="923.40" width="2.0" height="20.1" fill="#000"/>
<path d="M176.80 920.50L186.30 938.10L167.30 938.10z" fill="none" stroke="#7570b3" stroke-width="1.4"/>
<text x="192.6" y="937.5" font-size="28" fill="#000">TGMA</text>
<rect x="276.48" y="923.40" width="2.0" height="20.1" fill="#000"/>
<rect x="283.78" y="923.40" width="2.0" height="20.1" fill="#000"/>
<rect x="297.30" y="919.80" width="18.6" height="18.6" fill="none" stroke="#66a61e" stroke-width="1.4"/>
<text x="322.5" y="937.5" font-size="28" fill="#000">UBLX</text>
<rect x="398.64" y="923.40" width="2.0" height="20.1" fill="#000"/>
<path d="M432.50 920.50L442.00 938.10L423.00 938.10z" fill="none" stroke="#66a61e" stroke-width="1.4"/>
<text x="452.4" y="937.5" font-size="28" fill="#000">UBLX</text>
<rect x="528.54" y="923.40" width="2.0" height="20.1" fill="#000"/>
<rect x="535.84" y="923.40" width="2.0" height="20.1" fill="#000"/>
</svg>
</body></html>
